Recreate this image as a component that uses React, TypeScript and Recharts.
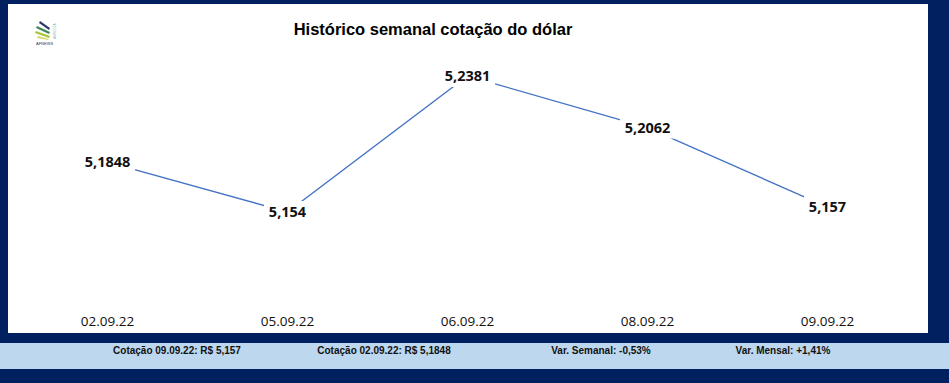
import React from "react";
import { LineChart, Line, XAxis, YAxis, LabelList } from "recharts";

// Weekly dollar quotes
const dates = ["02.09.22", "05.09.22", "06.09.22", "08.09.22", "09.09.22"];
const quotes = [5.1848, 5.154, 5.2381, 5.2062, 5.157];
const quoteLabels = ["5,1848", "5,154", "5,2381", "5,2062", "5,157"];

// Footer summary texts
const footerTexts = [
  "Cotação 09.09.22: R$ 5,157",
  "Cotação 02.09.22: R$ 5,1848",
  "Var. Semanal: -0,53%",
  "Var. Mensal: +1,41%",
];
const footerCenters = [177, 384, 601, 783];

const data = dates.map((d, i) => ({ date: d, value: quotes[i], label: quoteLabels[i] }));

const NAVY = "#002060";
const LIGHT_BLUE = "#BDD7EE";
const LINE_BLUE = "#4472C4";

const DateTick = (props: any) => {
  const { x, y, payload } = props;
  return (
    <text
      x={x}
      y={y + 26.5}
      textAnchor="middle"
      fontFamily="'Open Sans', sans-serif"
      fontSize={13.5}
      fill="#111"
    >
      {payload.value}
    </text>
  );
};

const ValueLabel = (props: any) => {
  const { x, y, value } = props;
  const w = String(value).length * 8.2 + 6;
  return (
    <g>
      <rect x={x - w / 2} y={y - 11} width={w} height={22} fill="#fff" />
      <text
        x={x}
        y={y}
        dy={5}
        textAnchor="middle"
        fontFamily="'Open Sans', sans-serif"
        fontWeight="bold"
        fontSize={14.5}
        fill="#111"
      >
        {value}
      </text>
    </g>
  );
};

const Logo = () => (
  <svg width={30} height={30} style={{ position: "absolute", left: 32, top: 17 }}>
    <path d="M8 4 L18 11 L17 13 L7 6 Z" fill="#2E3A6B" />
    <path d="M5 9 L18 15 L17 17 L4 11 Z" fill="#3E8A5C" />
    <path d="M4 14 L18 19 L17 21 L3 16 Z" fill="#A9C43B" />
    <path d="M6 19 L17 22 L16 23 L5 21 Z" fill="#D8D86A" />
    <text x={4} y={28} fontSize={4} fontFamily="Arial" fill="#2E3A6B">AFNEWS</text>
    <text x={24} y={22} fontSize={3} fontFamily="Arial" fill="#8aa" transform="rotate(-90 24 22)">AGRICOLA</text>
  </svg>
);

export default function App() {
  return (
    <div
      style={{
        position: "fixed",
        left: 0,
        top: 0,
        width: 949,
        height: 383,
        background: NAVY,
        overflow: "hidden",
      }}
    >
      <div style={{ position: "absolute", left: 8, top: 4, width: 920, height: 329, background: "#fff" }} />
      <div style={{ position: "absolute", left: 0, top: 343, width: 949, height: 26, background: LIGHT_BLUE }} />
      <Logo />
      <div
        style={{
          position: "absolute",
          left: 233,
          width: 400,
          top: 20,
          textAlign: "center",
          fontFamily: "'Liberation Sans', Arial, sans-serif",
          fontWeight: "bold",
          fontSize: 16.5,
          color: "#000",
        }}
      >
        Histórico semanal cotação do dólar
      </div>
      {footerTexts.map((t, i) => (
        <div
          key={t}
          style={{
            position: "absolute",
            left: footerCenters[i] - 100,
            width: 200,
            top: 345,
            textAlign: "center",
            fontFamily: "'Liberation Sans', Arial, sans-serif",
            fontWeight: "bold",
            fontSize: 10,
            color: "#111",
          }}
        >
          {t}
        </div>
      ))}
      <div style={{ position: "absolute", left: 0, top: 0 }}>
        <LineChart
          width={949}
          height={383}
          data={data}
          margin={{ top: 40.6, right: 121.5, bottom: 0, left: 107.5 }}
        >
          <XAxis
            dataKey="date"
            axisLine={false}
            tickLine={false}
            tickSize={0}
            tickMargin={0}
            height={83.7}
            interval={0}
            tick={<DateTick />}
          />
          <YAxis hide domain={[5.1, 5.26]} />
          <Line
            type="linear"
            dataKey="value"
            stroke={LINE_BLUE}
            strokeWidth={1.3}
            dot={false}
            isAnimationActive={false}
          >
            <LabelList dataKey="label" content={<ValueLabel />} />
          </Line>
        </LineChart>
      </div>
    </div>
  );
}
